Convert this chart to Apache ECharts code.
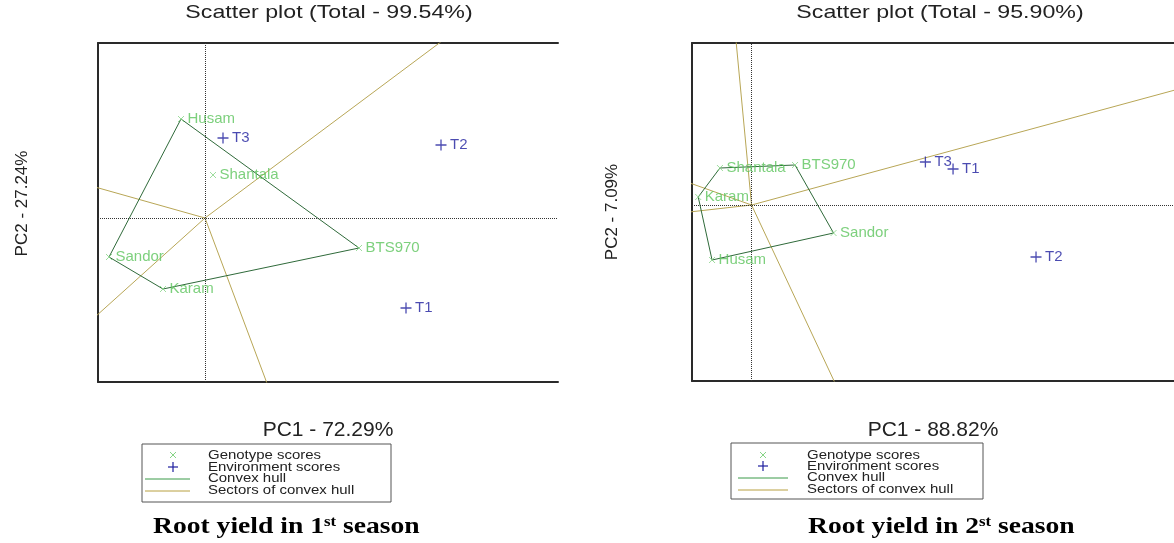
<!DOCTYPE html>
<html>
<head>
<meta charset="utf-8">
<script src="https://cdn.jsdelivr.net/npm/echarts@6/dist/echarts.min.js"></script>
<style>
html,body{margin:0;padding:0;background:#fff;}
#chart{width:1174px;height:543px;}
</style>
</head>
<body>
<div id="chart"></div>
<script>
// ---------- Data: Root yield, 1st season ----------
const genotypes1 = ['Husam', 'Shantala', 'BTS970', 'Sandor', 'Karam'];
const genoX1 = [-0.24, 0.08, 1.54, -0.96, -0.42];
const genoY1 = [0.99, 0.43, -0.30, -0.39, -0.71];
const envs1 = ['T1', 'T2', 'T3'];
const envX1 = [2.01, 2.36, 0.18];
const envY1 = [-0.90, 0.73, 0.80];
const hull1 = ['Husam', 'BTS970', 'Karam', 'Sandor', 'Husam'];
const rayX1 = [2.37, -1.10, -1.10, 0.63];
const rayY1 = [1.77, -0.99, 0.31, -1.68];
const title1 = 'Scatter plot (Total - 99.54%)';
const xName1 = 'PC1 - 72.29%';
const yName1 = 'PC2 - 27.24%';

// ---------- Data: Root yield, 2nd season ----------
const genotypes2 = ['Husam', 'Shantala', 'BTS970', 'Sandor', 'Karam'];
const genoX2 = [-0.40, -0.32, 0.44, 0.83, -0.54];
const genoY2 = [-0.55, 0.37, 0.40, -0.28, 0.08];
const envs2 = ['T1', 'T2', 'T3'];
const envX2 = [2.04, 2.88, 1.76];
const envY2 = [0.36, -0.52, 0.43];
const hull2 = ['Shantala', 'BTS970', 'Sandor', 'Husam', 'Karam', 'Shantala'];
const rayX2 = [4.40, -0.62, -0.62, -0.158, 0.845];
const rayY2 = [1.18, 0.218, -0.069, 1.65, -1.78];
const title2 = 'Scatter plot (Total - 95.90%)';
const xName2 = 'PC1 - 88.82%';
const yName2 = 'PC2 - 7.09%';

const legendItems = ['Genotype scores', 'Environment scores', 'Convex hull', 'Sectors of convex hull'];

// ---------- Styles ----------
const GENO_COL = '#86d486';
const GENO_TXT = '#5cc45c';
const ENV_COL = '#1e1e9e';
const HULL_COL = '#2f6a3a';
const SECT_COL = '#b8a656';
const FRAME_COL = '#2a2a2a';
const FONT = 'Liberation Sans, Arial, sans-serif';
const SERIF = 'Liberation Serif, Times New Roman, serif';
const CROSS = 'path://M0,0L10,10M10,0L0,10';
const PLUS = 'path://M5,0L5,10M0,5L10,5';

function axisBase(extra) {
  return Object.assign({
    type: 'value',
    axisLine: { show: true, onZero: false, lineStyle: { color: FRAME_COL, width: 2 } },
    axisTick: { show: false },
    axisLabel: { show: false },
    splitLine: { show: false }
  }, extra);
}

function panelSeries(gi, genos, gx, gy, envs, ex, ey, hull, rx, ry) {
  const axisIdx = { xAxisIndex: gi * 2, yAxisIndex: gi };
  const series = [];
  rx.forEach((x, i) => {
    series.push(Object.assign({
      type: 'line', data: [[0, 0], [x, ry[i]]], symbol: 'none', clip: true, silent: true,
      lineStyle: { color: SECT_COL, width: 1 }, z: 2
    }, axisIdx));
  });
  series.push(Object.assign({
    type: 'line', data: hull.map(n => { const k = genos.indexOf(n); return [gx[k], gy[k]]; }),
    symbol: 'none', clip: true, silent: true,
    lineStyle: { color: HULL_COL, width: 1 }, z: 3,
    markLine: {
      silent: true, symbol: 'none', label: { show: false },
      lineStyle: { color: '#333', type: 'dotted', width: 1 },
      data: [{ xAxis: 0 }, { yAxis: 0 }]
    }
  }, axisIdx));
  series.push(Object.assign({
    type: 'scatter', data: genos.map((n, i) => ({ name: n, value: [gx[i], gy[i]] })),
    symbol: CROSS, symbolSize: 6, z: 5,
    itemStyle: { color: 'none', borderColor: GENO_COL, borderWidth: 1 },
    label: { show: true, position: 'right', distance: 1, formatter: '{b}', color: GENO_TXT, fontSize: 15, fontFamily: FONT }
  }, axisIdx));
  series.push(Object.assign({
    type: 'scatter', data: envs.map((n, i) => ({ name: n, value: [ex[i], ey[i]] })),
    symbol: PLUS, symbolSize: 11, z: 5,
    itemStyle: { color: 'none', borderColor: ENV_COL, borderWidth: 1.3 },
    label: { show: true, position: 'right', distance: 1, formatter: '{b}', color: ENV_COL, fontSize: 15, fontFamily: FONT }
  }, axisIdx));
  return series;
}

function seg(x1, y1, x2, y2, color, w) {
  return { type: 'line', shape: { x1: x1, y1: y1, x2: x2, y2: y2 }, style: { stroke: color, lineWidth: w } };
}

function legendGraphic(bx, by, bw, bh, mx, lx0, lx1, tx, rows) {
  const els = [];
  els.push({ type: 'rect', shape: { x: bx, y: by, width: bw, height: bh }, style: { fill: '#fff', stroke: '#555', lineWidth: 1 } });
  els.push(seg(mx - 3, rows[0] - 3, mx + 3, rows[0] + 3, GENO_COL, 1));
  els.push(seg(mx + 3, rows[0] - 3, mx - 3, rows[0] + 3, GENO_COL, 1));
  els.push(seg(mx - 5, rows[1], mx + 5, rows[1], ENV_COL, 1.2));
  els.push(seg(mx, rows[1] - 5, mx, rows[1] + 5, ENV_COL, 1.2));
  els.push(seg(lx0, rows[2] + 1, lx1, rows[2] + 1, '#3a9a48', 1));
  els.push(seg(lx0, rows[3] + 1, lx1, rows[3] + 1, '#b8a040', 1));
  legendItems.forEach((t, i) => {
    els.push({ type: 'text', x: tx, y: rows[i], scaleX: 1.15, style: { text: t, fill: '#222', font: '13px ' + FONT, verticalAlign: 'middle' } });
  });
  return els;
}

function caption(x, num) {
  return {
    type: 'text', x: x, y: 540, scaleX: 1.2,
    style: {
      rich: {
        a: { fontSize: 23, fontWeight: 'bold', fontFamily: SERIF, fill: '#000' },
        s: { fontSize: 14, fontWeight: 'bold', fontFamily: SERIF, fill: '#000', verticalAlign: 'top', padding: [0, 0, 11, 0] }
      },
      text: '{a|Root yield in ' + num + '}{s|st}{a| season}',
      verticalAlign: 'bottom'
    }
  };
}

function titleText(x, t) {
  return { type: 'text', x: x, y: 13, scaleX: 1.22, style: { text: t, font: '19px ' + FONT, fill: '#222', align: 'center', verticalAlign: 'middle' } };
}

const chart = echarts.init(document.getElementById('chart'), null, { renderer: 'canvas' });
const option = {
  animation: false,
  backgroundColor: '#fff',
  grid: [
    { left: 98, top: 43, width: 460, height: 339 },
    { left: 692, top: 43, width: 488, height: 338 }
  ],
  xAxis: [
    axisBase({ gridIndex: 0, min: -1.07, max: 3.53, position: 'bottom', name: xName1, nameLocation: 'middle', nameGap: 38, nameTextStyle: { fontSize: 21, color: '#222', fontFamily: FONT } }),
    axisBase({ gridIndex: 0, min: -1.07, max: 3.53, position: 'top' }),
    axisBase({ gridIndex: 1, min: -0.603, max: 4.277, position: 'bottom', name: xName2, nameLocation: 'middle', nameGap: 39, nameTextStyle: { fontSize: 21, color: '#222', fontFamily: FONT } }),
    axisBase({ gridIndex: 1, min: -0.603, max: 4.277, position: 'top' })
  ],
  yAxis: [
    axisBase({ gridIndex: 0, min: -1.64, max: 1.75, position: 'left', name: yName1, nameLocation: 'middle', nameGap: 67, nameRotate: 90, nameTextStyle: { fontSize: 17, color: '#222', fontFamily: FONT, padding: [0, 0, 0, 18] } }),
    axisBase({ gridIndex: 1, min: -1.76, max: 1.62, position: 'left', name: yName2, nameLocation: 'middle', nameGap: 71, nameRotate: 90, nameTextStyle: { fontSize: 17, color: '#222', fontFamily: FONT } })
  ],
  series: [].concat(
    panelSeries(0, genotypes1, genoX1, genoY1, envs1, envX1, envY1, hull1, rayX1, rayY1),
    panelSeries(1, genotypes2, genoX2, genoY2, envs2, envX2, envY2, hull2, rayX2, rayY2)
  ),
  graphic: [].concat(
    [titleText(329, title1), titleText(940, title2)],
    legendGraphic(142, 444, 249, 58, 173, 145, 190, 208, [455, 467, 478, 490]),
    legendGraphic(731, 443, 252, 56, 763, 738, 788, 807, [455, 466, 477, 489]),
    [caption(153, '1'), caption(808, '2')]
  )
};
chart.setOption(option);
</script>
</body>
</html>
